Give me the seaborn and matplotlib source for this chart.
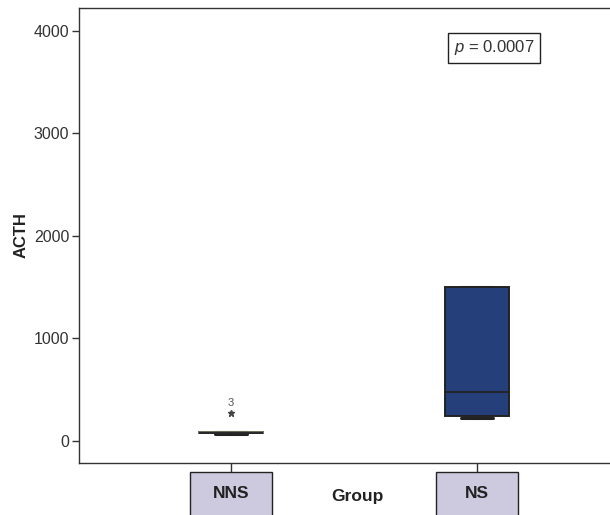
import matplotlib
matplotlib.use("Agg")
import matplotlib.pyplot as plt
import matplotlib.transforms as mtransforms
from matplotlib.patches import Rectangle
import seaborn as sns
import pandas as pd
import numpy as np

# ---- data ----
groups = ["NNS", "NS"]
nns_values = [70, 74, 80, 82, 90, 276]
ns_values = [220, 240, 475, 1500, 1500]
outlier_label = "3"
p_text = "0.0007"
y_ticks = [0, 1000, 2000, 3000, 4000]

df = pd.DataFrame({
    "Group": ["NNS"] * len(nns_values) + ["NS"] * len(ns_values),
    "ACTH": nns_values + ns_values,
})

sns.set_theme(style="white")
plt.rcParams["font.family"] = ["Liberation Sans", "DejaVu Sans"]
plt.rcParams["mathtext.fontset"] = "custom"
plt.rcParams["mathtext.it"] = "Liberation Sans:italic"
plt.rcParams["mathtext.rm"] = "Liberation Sans"

fig = plt.figure(figsize=(6.1, 5.15), dpi=100)
ax = fig.add_axes([79 / 610, 1 - 463 / 515, 1 - 79 / 610, (463 - 8) / 515])

navy = "#253f7a"
sns.boxplot(
    data=df, x="Group", y="ACTH", order=groups, ax=ax,
    palette={"NNS": "#6b6b58", "NS": navy}, hue="Group", legend=False,
    width=0.26, linewidth=1.4, linecolor="#222222", saturation=1,
    whis=3.0,
    flierprops=dict(marker="*", markersize=5, markerfacecolor="#444444",
                    markeredgecolor="#444444"),
    whiskerprops=dict(color="#222222"),
    capprops=dict(color="#222222", linewidth=2.2, zorder=0.5),
    medianprops=dict(color="#222222", linewidth=1.3),
)

# soften the NNS box outline (greyish in the reference)
if ax.patches:
    ax.patches[0].set_edgecolor("#6b6b58")

# outlier label
ax.annotate(outlier_label, xy=(0, nns_values[-1]), xytext=(0, 3.5),
            textcoords="offset points", ha="center", va="bottom",
            fontsize=8, color="#555555")

ax.set_xlim(-0.618, 1.54)
ax.set_ylim(-215, 4224)
ax.set_yticks(y_ticks)
ax.set_yticklabels([str(v) for v in y_ticks], fontsize=11.5, color="#333333")

for side in ["left", "top", "bottom"]:
    ax.spines[side].set_visible(True)
    ax.spines[side].set_color("#333333")
    ax.spines[side].set_linewidth(1.0)
ax.spines["right"].set_visible(False)

ax.tick_params(axis="y", left=True, length=5, width=1, color="#333333", pad=2)
ax.tick_params(axis="x", bottom=True, length=6.5, width=1, color="#333333", pad=0)
ax.set_xticks(range(len(groups)))
ax.set_xticklabels([])
ax.set_xlabel("")
ax.set_ylabel("ACTH", fontsize=12, fontweight="bold", color="#222222", labelpad=4)

# category label boxes below the axis
trans = mtransforms.blended_transform_factory(ax.transData, ax.transAxes)
for i, g in enumerate(groups):
    rect = Rectangle((i - 0.1667, -0.0198 - 0.2), 0.3333, 0.2, transform=trans,
                     facecolor="#cdcadf", edgecolor="#222222", linewidth=1.0,
                     clip_on=False)
    ax.add_patch(rect)
    ax.text(i, -(494 - 463) / 455, g, transform=trans, ha="center", va="center",
            fontsize=12.5, fontweight="bold", color="#222222")

ax.text((357 - 79) / 531, -(496 - 463) / 455, "Group", transform=ax.transAxes,
        ha="center", va="center", fontsize=12.5, fontweight="bold", color="#222222")

# p-value box
ax.text((494 - 79) / 531, 1 - (48 - 8) / 455, r"$p$ = " + p_text,
        transform=ax.transAxes, ha="center", va="center", fontsize=12,
        color="#333333",
        bbox=dict(boxstyle="square,pad=0.35", facecolor="white",
                  edgecolor="#222222", linewidth=1.0))

fig.savefig("out.png", dpi=100)
